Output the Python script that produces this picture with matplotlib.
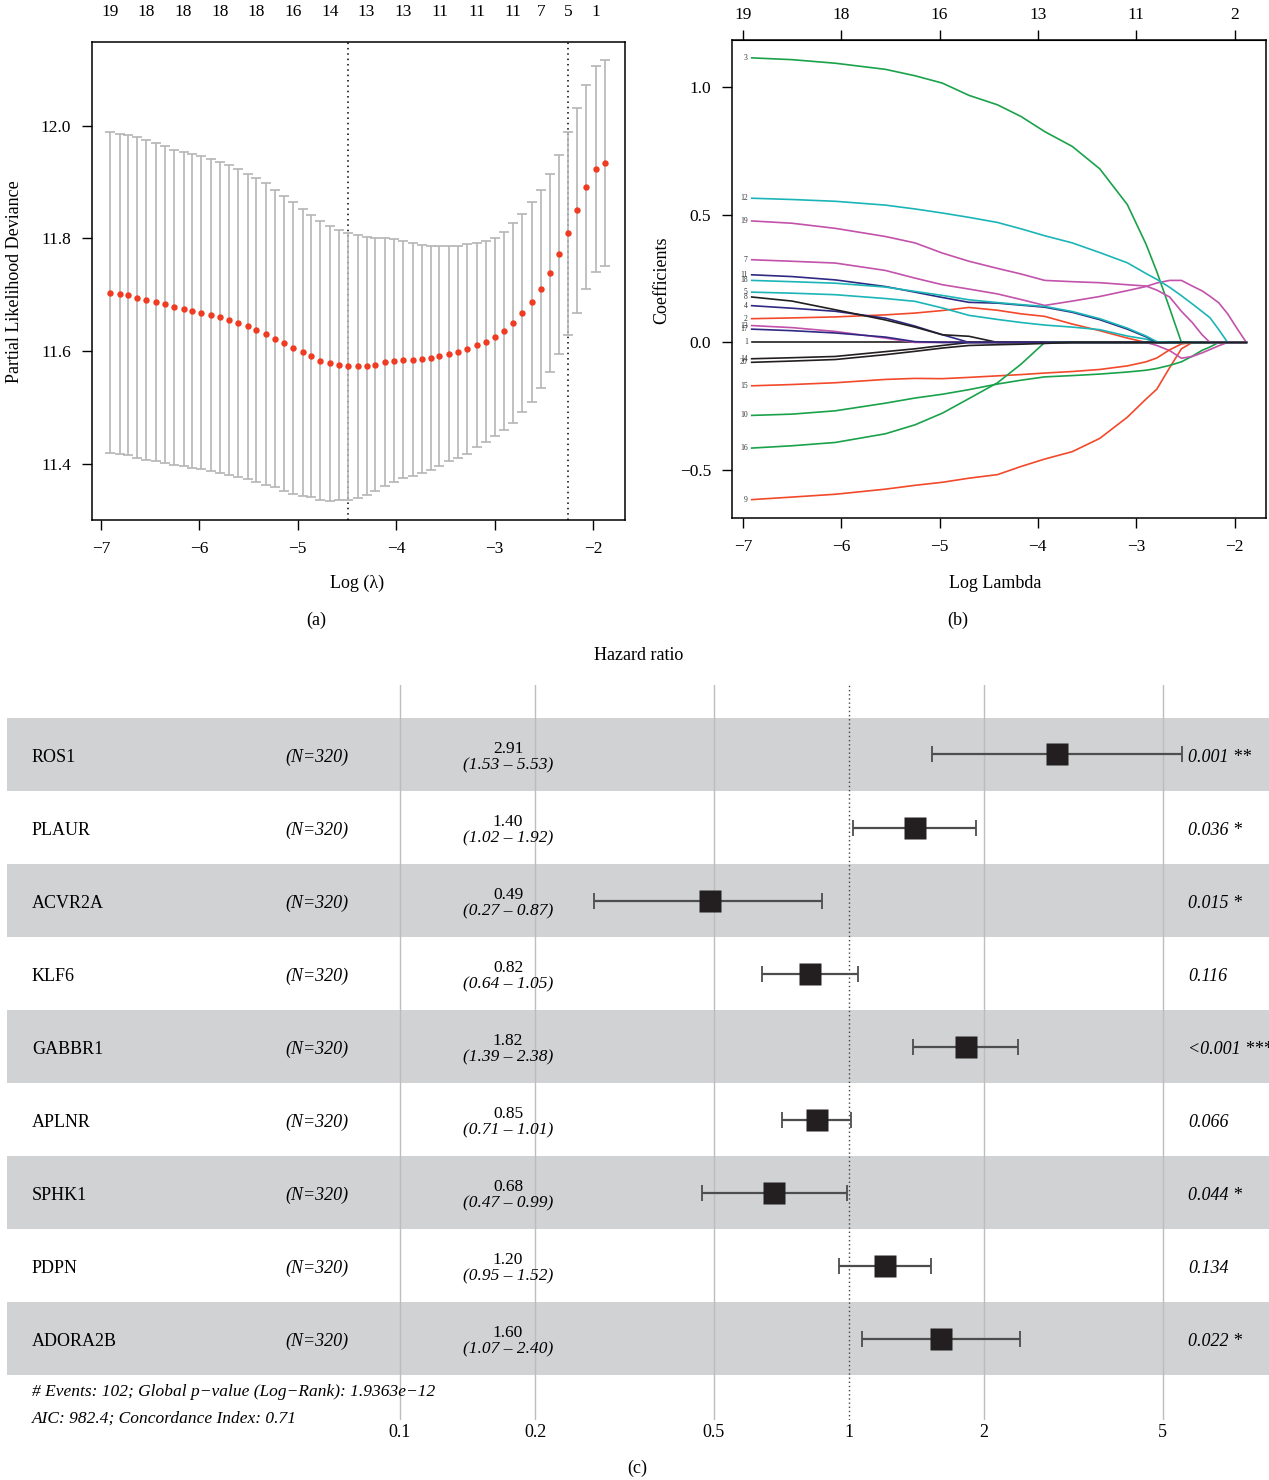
import matplotlib
matplotlib.use('Agg')
import matplotlib.pyplot as plt
import numpy as np

plt.rcParams['font.family'] = ['Liberation Serif', 'DejaVu Serif']
plt.rcParams['axes.unicode_minus'] = True

W, H = 1269, 1480

# ---------------- panel (a): cross-validation curve ----------------
log_lambda = [-6.91, -6.81, -6.72, -6.63, -6.54, -6.44, -6.35, -6.26, -6.16, -6.07,
              -5.98, -5.88, -5.79, -5.70, -5.61, -5.51, -5.42, -5.32, -5.23, -5.14,
              -5.05, -4.95, -4.86, -4.77, -4.67, -4.58, -4.49, -4.39, -4.30, -4.21,
              -4.11, -4.02, -3.93, -3.83, -3.74, -3.65, -3.56, -3.46, -3.37, -3.28,
              -3.18, -3.09, -3.00, -2.90, -2.81, -2.72, -2.62, -2.53, -2.44, -2.35,
              -2.25, -2.16, -2.07, -1.97, -1.88]
cvm = [11.704, 11.702, 11.699, 11.695, 11.691, 11.687, 11.683, 11.678, 11.675, 11.671,
       11.668, 11.664, 11.660, 11.655, 11.650, 11.644, 11.637, 11.630, 11.622, 11.614,
       11.606, 11.598, 11.591, 11.583, 11.578, 11.575, 11.573, 11.573, 11.574, 11.576,
       11.580, 11.583, 11.585, 11.585, 11.586, 11.588, 11.591, 11.595, 11.599, 11.604,
       11.611, 11.617, 11.625, 11.636, 11.650, 11.668, 11.687, 11.711, 11.738, 11.772,
       11.809, 11.850, 11.891, 11.924, 11.934]
cvup = [11.989, 11.986, 11.983, 11.980, 11.975, 11.969, 11.964, 11.958, 11.954, 11.950,
        11.946, 11.941, 11.936, 11.930, 11.923, 11.915, 11.907, 11.898, 11.886, 11.876,
        11.865, 11.853, 11.842, 11.831, 11.822, 11.815, 11.810, 11.807, 11.803, 11.801,
        11.800, 11.799, 11.796, 11.792, 11.789, 11.787, 11.786, 11.786, 11.787, 11.790,
        11.792, 11.796, 11.801, 11.812, 11.827, 11.844, 11.865, 11.887, 11.914, 11.949,
        11.989, 12.032, 12.072, 12.107, 12.117]
lambda_min = -4.49
lambda_1se = -2.25
nz_pos = [-6.91, -6.54, -6.16, -5.79, -5.42, -5.05, -4.67, -4.30, -3.93, -3.56,
          -3.18, -2.81, -2.53, -2.25, -1.97]
nz_labels = ['19', '18', '18', '18', '18', '16', '14', '13', '13', '11',
             '11', '11', '7', '5', '1']

# ---------------- panel (b): coefficient paths ----------------
knots = [-6.91, -6.50, -6.06, -5.55, -5.25, -4.97, -4.70, -4.41, -4.17, -3.93, -3.65, -3.37,
         -3.09, -2.90, -2.79, -2.66, -2.54, -2.43, -2.33, -2.25, -2.16, -2.07, -1.97, -1.88]
coef_1 = [0] * 24
coef_2 = [0.093, 0.096, 0.100, 0.108, 0.115, 0.125, 0.137, 0.126, 0.112, 0.102, 0.072, 0.046,
          0.017, 0, 0, 0, 0, 0, 0, 0, 0, 0, 0, 0]
coef_3 = [1.115, 1.108, 1.094, 1.070, 1.045, 1.016, 0.968, 0.931, 0.885, 0.826, 0.768, 0.680,
          0.540, 0.385, 0.277, 0.134, 0, 0, 0, 0, 0, 0, 0, 0]
coef_4 = [0.144, 0.134, 0.122, 0.095, 0.064, 0.030, 0, 0, 0, 0, 0, 0,
          0, 0, 0, 0, 0, 0, 0, 0, 0, 0, 0, 0]
coef_5 = [0.197, 0.193, 0.187, 0.172, 0.161, 0.135, 0.106, 0.090, 0.078, 0.068, 0.060, 0.050,
          0.025, 0.013, 0, 0, 0, 0, 0, 0, 0, 0, 0, 0]
coef_7 = [0.324, 0.318, 0.311, 0.282, 0.252, 0.226, 0.209, 0.190, 0.168, 0.145, 0.162, 0.180,
          0.203, 0.219, 0.233, 0.243, 0.243, 0.221, 0.202, 0.181, 0.155, 0.112, 0.052, 0]
coef_8 = [0.178, 0.162, 0.128, 0.088, 0.060, 0.030, 0.024, 0, 0, 0, 0, 0,
          0, 0, 0, 0, 0, 0, 0, 0, 0, 0, 0, 0]
coef_9 = [-0.616, -0.606, -0.595, -0.575, -0.560, -0.548, -0.532, -0.518, -0.486, -0.457, -0.428, -0.376,
          -0.293, -0.222, -0.183, -0.099, -0.025, 0, 0, 0, 0, 0, 0, 0]
coef_10 = [-0.286, -0.281, -0.268, -0.238, -0.218, -0.203, -0.185, -0.163, -0.148, -0.135, -0.130, -0.124,
           -0.116, -0.109, -0.102, -0.090, -0.076, -0.054, -0.031, -0.018, 0, 0, 0, 0]
coef_11 = [0.265, 0.258, 0.245, 0.219, 0.197, 0.176, 0.157, 0.154, 0.146, 0.138, 0.118, 0.089,
           0.052, 0.022, 0, 0, 0, 0, 0, 0, 0, 0, 0, 0]
coef_12 = [0.565, 0.560, 0.553, 0.538, 0.523, 0.507, 0.490, 0.470, 0.445, 0.418, 0.390, 0.352,
           0.312, 0.270, 0.247, 0.216, 0.183, 0.151, 0.121, 0.097, 0.050, 0, 0, 0]
coef_13 = [0.066, 0.058, 0.043, 0.017, 0, 0, 0, 0, 0, 0, 0, 0,
           0, 0, -0.012, -0.032, -0.062, -0.055, -0.041, -0.028, -0.013, 0, 0, 0]
coef_14 = [-0.064, -0.060, -0.055, -0.036, -0.025, -0.012, 0, 0, 0, 0, 0, 0,
           0, 0, 0, 0, 0, 0, 0, 0, 0, 0, 0, 0]
coef_15 = [-0.170, -0.165, -0.158, -0.145, -0.141, -0.142, -0.137, -0.131, -0.126, -0.120, -0.114, -0.106,
           -0.092, -0.076, -0.061, -0.029, -0.006, 0, 0, 0, 0, 0, 0, 0]
coef_16 = [-0.414, -0.405, -0.392, -0.358, -0.323, -0.277, -0.220, -0.158, -0.085, 0, 0, 0,
           0, 0, 0, 0, 0, 0, 0, 0, 0, 0, 0, 0]
coef_17 = [0.052, 0.046, 0.037, 0.021, 0.003, 0, 0, 0, 0, 0, 0, 0,
           0, 0, 0, 0, 0, 0, 0, 0, 0, 0, 0, 0]
coef_18 = [0.243, 0.238, 0.232, 0.217, 0.200, 0.184, 0.167, 0.156, 0.148, 0.141, 0.121, 0.093,
           0.056, 0.025, 0.003, 0, 0, 0, 0, 0, 0, 0, 0, 0]
coef_19 = [0.476, 0.467, 0.447, 0.415, 0.390, 0.350, 0.318, 0.290, 0.268, 0.243, 0.238, 0.234,
           0.226, 0.221, 0.205, 0.178, 0.122, 0.078, 0.030, 0, 0, 0, 0, 0]
coef_20 = [-0.078, -0.073, -0.067, -0.048, -0.035, -0.022, -0.012, -0.009, -0.007, -0.004, 0, 0,
           0, 0, 0, 0, 0, 0, 0, 0, 0, 0, 0, 0]
df_top = ['19', '18', '16', '13', '11', '2']

BLACK, RED, GREEN = '#231f20', '#f2492a', '#1aa24a'
NAVY, CYAN, MAGENTA = '#2e2a83', '#1bb5b7', '#c252aa'
paths = [('1', coef_1, BLACK), ('2', coef_2, RED), ('3', coef_3, GREEN), ('4', coef_4, NAVY),
         ('5', coef_5, CYAN), ('7', coef_7, MAGENTA), ('8', coef_8, BLACK), ('9', coef_9, RED),
         ('10', coef_10, GREEN), ('11', coef_11, NAVY), ('12', coef_12, CYAN),
         ('13', coef_13, MAGENTA), ('14', coef_14, BLACK), ('15', coef_15, RED),
         ('16', coef_16, GREEN), ('17', coef_17, NAVY), ('18', coef_18, CYAN),
         ('19', coef_19, MAGENTA), ('20', coef_20, BLACK)]

# ---------------- panel (c): forest plot ----------------
genes = ['ROS1', 'PLAUR', 'ACVR2A', 'KLF6', 'GABBR1', 'APLNR', 'SPHK1', 'PDPN', 'ADORA2B']
n_obs = [320, 320, 320, 320, 320, 320, 320, 320, 320]
hr = [2.91, 1.40, 0.49, 0.82, 1.82, 0.85, 0.68, 1.20, 1.60]
ci_lo = [1.53, 1.02, 0.27, 0.64, 1.39, 0.71, 0.47, 0.95, 1.07]
ci_hi = [5.53, 1.92, 0.87, 1.05, 2.38, 1.01, 0.99, 1.52, 2.40]
p_text = ['0.001 **', '0.036 *', '0.015 *', '0.116', '<0.001 ***',
          '0.066', '0.044 *', '0.134', '0.022 *']
hr_ticks = [0.1, 0.2, 0.5, 1, 2, 5]
foot1 = '# Events: 102; Global p\u2212value (Log\u2212Rank): 1.9363e\u221212'
foot2 = 'AIC: 982.4; Concordance Index: 0.71'


def fx(px):
    return px / W


def fy(py):
    return 1 - py / H


fig = plt.figure(figsize=(W / 100, H / 100), dpi=100)
FS = 13

# ---- (a)
axa = fig.add_axes([fx(92), fy(520), fx(625) - fx(92), fy(42) - fy(520)])
lam = np.array(log_lambda)
m = np.array(cvm)
up = np.array(cvup)
axa.errorbar(lam, m, yerr=up - m, fmt='none', ecolor='#b5b5b5', elinewidth=1.2,
             capsize=3.6, capthick=1.2, zorder=2)
axa.plot(lam, m, 'o', color='#ee3b22', ms=4.6, mec='none', zorder=3)
axa.axvline(lambda_min, color='black', lw=1.1, ls=(0, (1, 2.5)), zorder=1)
axa.axvline(lambda_1se, color='black', lw=1.1, ls=(0, (1, 2.5)), zorder=1)
axa.set_xlim(-7.09, -1.675)
axa.set_ylim(11.30, 12.149)
axa.set_xticks([-7, -6, -5, -4, -3, -2])
axa.set_yticks([11.4, 11.6, 11.8, 12.0])
axa.set_yticklabels(['11.4', '11.6', '11.8', '12.0'])
axa.tick_params(direction='out', length=7, width=1, labelsize=12.5, pad=8)
for s in axa.spines.values():
    s.set_linewidth(1.1)
tops = axa.secondary_xaxis('top')
tops.set_xticks(nz_pos)
tops.set_xticklabels(nz_labels)
tops.tick_params(length=0, pad=16, labelsize=12.5)
tops.spines['top'].set_visible(False)
fig.text(fx(15), fy(282), 'Partial Likelihood Deviance', rotation=90, ha='center',
         va='center', fontsize=FS)
fig.text(fx(357), fy(583), 'Log (\u03bb)', ha='center', va='center', fontsize=FS)
fig.text(fx(316), fy(620), '(a)', ha='center', va='center', fontsize=FS)

# ---- (b)
axb = fig.add_axes([fx(732), fy(518), fx(1266) - fx(732), fy(40) - fy(518)])
for lab, vals, col in paths:
    axb.plot(knots, vals, color=col, lw=1.2)
    axb.text(knots[0] - 0.04, vals[0], lab, ha='right', va='center', fontsize=5.5,
             color='#333333')
axb.set_xlim(-7.11, -1.68)
axb.set_ylim(-0.688, 1.185)
axb.set_xticks([-7, -6, -5, -4, -3, -2])
axb.set_yticks([-0.5, 0.0, 0.5, 1.0])
axb.set_yticklabels(['\u22120.5', '0.0', '0.5', '1.0'])
axb.tick_params(direction='out', length=7, width=1, labelsize=12.5, pad=8)
for s in axb.spines.values():
    s.set_linewidth(1.1)
topb = axb.secondary_xaxis('top')
topb.set_xticks([-7, -6, -5, -4, -3, -2])
topb.set_xticklabels(df_top)
topb.tick_params(direction='out', length=7, width=1, pad=5, labelsize=12.5)
fig.text(fx(662), fy(280), 'Coefficients', rotation=90, ha='center', va='center', fontsize=FS)
fig.text(fx(995), fy(583), 'Log Lambda', ha='center', va='center', fontsize=FS)
fig.text(fx(958), fy(620), '(b)', ha='center', va='center', fontsize=FS)

# ---- (c)
axc = fig.add_axes([fx(7), fy(1420), fx(1269) - fx(7), fy(685) - fy(1420)])
rows = np.arange(len(genes))
axc.set_xscale('log')
axc.set_xlim(10 ** -1.875, 10 ** 0.9354)
axc.set_ylim(9.116, -0.952)
for i in rows:
    if i % 2 == 0:
        axc.axhspan(i - 0.5, i + 0.5, color='#d1d2d4', lw=0, zorder=0)
for t in hr_ticks:
    if t != 1:
        axc.axvline(t, color='#bdbdbd', lw=1, zorder=1)
axc.axvline(1, color='#444444', lw=1, ls=(0, (1, 2)), zorder=2)
h = np.array(hr)
axc.errorbar(h, rows, xerr=[h - np.array(ci_lo), np.array(ci_hi) - h], fmt='none',
             ecolor='#4d4d4d', elinewidth=1.6, capsize=5.5, capthick=1.3, zorder=3)
axc.plot(h, rows, 's', ms=16, color='#231f20', mec='none', zorder=4)
axc.set_xticks(hr_ticks)
axc.set_xticklabels([str(t) for t in hr_ticks])
axc.xaxis.set_minor_locator(matplotlib.ticker.NullLocator())
axc.tick_params(axis='x', length=0, pad=3, labelsize=FS)
axc.set_yticks([])
for s in axc.spines.values():
    s.set_visible(False)
tr = axc.get_yaxis_transform()
dy = 0.04
for i in rows:
    axc.text((32 - 7) / 1262, i + dy, genes[i], transform=tr, ha='left', va='center', fontsize=FS)
    axc.text((285 - 7) / 1262, i + dy, '(N=%d)' % n_obs[i], transform=tr, ha='left', va='center',
             fontsize=FS, style='italic')
    axc.text((508 - 7) / 1262, i - 0.07, '%.2f' % hr[i], transform=tr, ha='center',
             va='center', fontsize=12.5)
    axc.text((508 - 7) / 1262, i + 0.15, '(%.2f \u2013 %.2f)' % (ci_lo[i], ci_hi[i]),
             transform=tr, ha='center', va='center', fontsize=12.5, style='italic')
    axc.text((1188 - 7) / 1262, i + dy, p_text[i], transform=tr, ha='left', va='center',
             fontsize=FS, style='italic', clip_on=False)
fig.text(fx(32), fy(1392), foot1, ha='left', va='center', fontsize=12.5, style='italic')
fig.text(fx(32), fy(1419), foot2, ha='left', va='center', fontsize=12.5, style='italic')
fig.text(fx(639), fy(655), 'Hazard ratio', ha='center', va='center', fontsize=FS)
fig.text(fx(637), fy(1468), '(c)', ha='center', va='center', fontsize=FS)

fig.savefig('out.png', dpi=100)
